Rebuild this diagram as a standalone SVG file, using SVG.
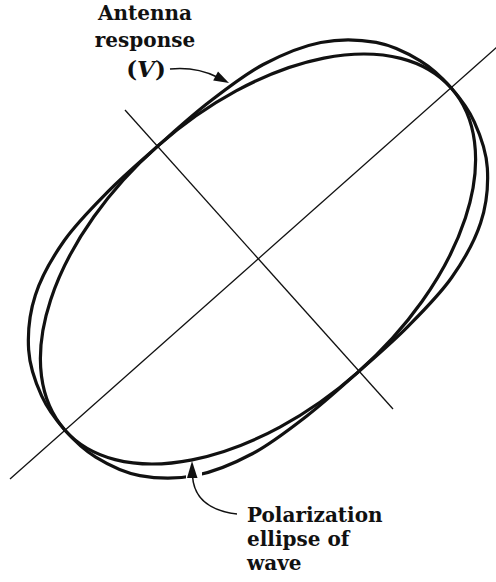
<svg xmlns="http://www.w3.org/2000/svg" width="496" height="582" viewBox="0 0 496 582">
<defs>
<style>
.axis{stroke:#111;stroke-width:1.3;fill:none}
.curve{stroke:#111;stroke-width:3.2;fill:none}
.lead{stroke:#111;stroke-width:1.5;fill:none}
.head{fill:#111;stroke:none}
.lbl{font-family:"DejaVu Serif","Liberation Serif",serif;font-weight:bold;font-size:20px;fill:#111}
</style>
</defs>
<rect width="496" height="582" fill="#fff"/>
<g id="axes">
<line class="axis" x1="10" y1="479" x2="497" y2="47"/>
<line class="axis" x1="125" y1="110" x2="393" y2="409"/>
</g>
<g id="polarization-ellipse">
<ellipse class="curve" cx="0" cy="0" rx="258" ry="151" transform="translate(258 259) rotate(-41.5)"/>
</g>
<g id="antenna-response">
<path class="curve" transform="translate(258 259) rotate(-41.5)" d="M258,0 C258,-13.6 257.1,-26.8 252.8,-40.8 C248.5,-54.8 242.4,-70.6 232,-83.9 C221.6,-97.2 207,-110.9 190.5,-120.6 C174,-130.3 153.3,-137.3 132.8,-142.2 C112.3,-147.1 89.5,-148.4 67.4,-149.9 C45.3,-151.4 22.5,-151 0,-151 C-22.5,-151 -45.3,-151.4 -67.4,-149.9 C-89.5,-148.4 -112.3,-147.1 -132.8,-142.2 C-153.3,-137.3 -174,-130.3 -190.5,-120.6 C-207,-110.9 -221.6,-97.2 -232,-83.9 C-242.4,-70.6 -248.5,-54.8 -252.8,-40.8 C-257.1,-26.8 -258,-13.6 -258,0 C-258,13.6 -257.1,26.8 -252.8,40.8 C-248.5,54.8 -242.4,70.6 -232,83.9 C-221.6,97.2 -207,110.9 -190.5,120.6 C-174,130.3 -153.3,137.3 -132.8,142.2 C-112.3,147.1 -89.5,148.4 -67.4,149.9 C-45.3,151.4 -22.5,151 0,151 C22.5,151 45.3,151.4 67.4,149.9 C89.5,148.4 112.3,147.1 132.8,142.2 C153.3,137.3 174,130.3 190.5,120.6 C207,110.9 221.6,97.2 232,83.9 C242.4,70.6 248.5,54.8 252.8,40.8 C257.1,26.8 258,13.6 258,0 Z"/>
<rect x="186" y="469" width="16" height="14" fill="#fff"/>
</g>
<g id="connectors">
<path class="lead" d="M170,69 C190,67 205,71 217,77"/>
<polygon class="head" points="229,83 218,71.4 213.2,80.6"/>
<path class="lead" d="M237,514 C212,511 194,500 192.5,476"/>
<polygon class="head" points="192,461 187,478 197.5,478"/>
</g>
<g id="label-antenna">
<text class="lbl" x="145" y="20" text-anchor="middle">Antenna</text>
<text class="lbl" x="145" y="47" text-anchor="middle">response</text>
<text class="lbl" x="146" y="77" text-anchor="middle" style="font-size:23px">(<tspan font-style="italic">V</tspan>)</text>
</g>
<g id="label-polarization">
<text class="lbl" x="247" y="522">Polarization</text>
<text class="lbl" x="247" y="546">ellipse of</text>
<text class="lbl" x="247" y="570">wave</text>
</g>
</svg>
